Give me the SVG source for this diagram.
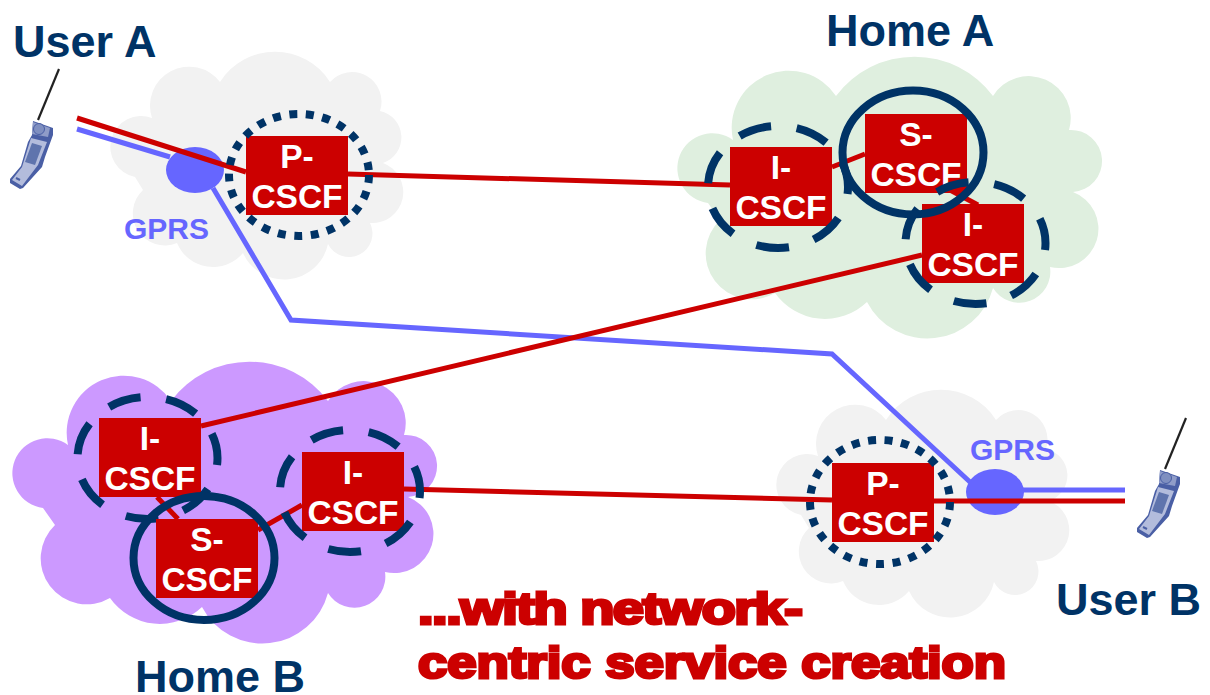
<svg xmlns="http://www.w3.org/2000/svg" width="1210" height="695" viewBox="0 0 1210 695">
<style>
text{font-family:"Liberation Sans",Arial,sans-serif;font-weight:700}
.box{fill:#cc0000}
.bt{fill:#fff;font-size:33.5px;text-anchor:middle}
.lbl{fill:#003366;font-size:45px}
.gprs{fill:#6666ff;font-size:30px}
.big{fill:#cc0000;stroke:#cc0000;stroke-width:3px;font-size:44px}
.ring{fill:none;stroke:#003366;stroke-width:8}
.dot{stroke-dasharray:8 8.6}
.dash{stroke-dasharray:33 25.9;stroke-dashoffset:26}
.r{fill:none;stroke:#cc0000;stroke-width:5}
.b{fill:none;stroke:#6666ff;stroke-width:5}
.ap{fill:#6666ff}
</style>
<defs>
<path id="cloudS" d="M135 177A30.800 30.800 0 1 1 152 118A39 39 0 0 1 220 82A65 65 0 0 1 330 82A29.500 29.500 0 0 1 380 111A27 27 0 0 1 383 163A31 31 0 0 1 370 223A23 23 0 0 1 328 244A45 45 0 0 1 243 253A39 39 0 0 1 177 243A32 32 0 0 1 143 190Z"/>
<path id="cloudL" d="M708 203A35 35 0 1 1 733 140A57 57 0 0 1 836 96A98 98 0 0 1 993 96A42 42 0 0 1 1069 130A31 31 0 0 1 1073 192A39.300 39.300 0 0 1 1050 267A31 31 0 0 1 993 288A68 68 0 0 1 867 302A61 61 0 0 1 775 293A46 46 0 0 1 720 220Z"/>
<g id="phone">
<path d="M59 69L38 120" stroke="#222" stroke-width="2.200" fill="none"/>
<path d="M33 121L53 128L53 135L45 157L42 167L23 188L20 189L10 183L10 179L21 166L28 142L32 135Z" fill="#4a5fa5"/>
<path d="M33 122L50 128L48 137L32 134Z" fill="#8f9cc8"/>
<path d="M31 138L47 142L38 165L22 186L12 180L22 167Z" fill="#b3bcdc"/>
<ellipse cx="39" cy="129" rx="5.500" ry="5.500" fill="#7f8fc0" stroke="#4a5fa5" stroke-width="1"/>
<path d="M32 143L42 146L35 165L25 162Z" fill="#5f74ad"/>
<path d="M16 178L20 180" stroke="#4a5fa5" stroke-width="2"/>
</g>
</defs>
<g id="clouds">
<use id="cloud-user-a" href="#cloudS" fill="#f2f2f2"/>
<use id="cloud-user-b" href="#cloudS" fill="#f2f2f2" transform="translate(666 338)"/>
<use id="cloud-home-a" href="#cloudL" fill="#dfefdf"/>
<use id="cloud-home-b" href="#cloudL" fill="#cc99ff" transform="translate(-665 305)"/>
</g>
<g id="access-a"><ellipse class="ap" cx="195" cy="170" rx="29" ry="23"/></g>
<g id="access-b"><ellipse class="ap" cx="995" cy="492" rx="29" ry="23"/></g>
<g id="connectors">
<path class="b" d="M77 129L170 157"/>
<path class="b" d="M213 188L291 320L832 354L970 482"/>
<path class="b" d="M1023 490H1125"/>
<path class="r" d="M77 118L246 172"/>
<path class="r" d="M348 174L730 185"/>
<path class="r" d="M832 167L865 154"/>
<path class="r" d="M950 190L978 205"/>
<path class="r" d="M922 255L201 426"/>
<path class="r" d="M157 497L178 519"/>
<path class="r" d="M258 530L302 505"/>
<path class="r" d="M404 489L832 500"/>
<path class="r" d="M934 501H1125"/>
</g>
<g id="p-cscf-a"><rect class="box" x="246" y="136" width="102" height="79"/><text class="bt" x="297" y="168">P-</text><text class="bt" x="297" y="208">CSCF</text><ellipse class="ring dot" cx="299" cy="175" rx="70" ry="61"/></g>
<g id="i-cscf-a1"><rect class="box" x="730" y="147" width="102" height="79"/><text class="bt" x="781" y="179">I-</text><text class="bt" x="781" y="219">CSCF</text><ellipse class="ring dash" cx="778" cy="187" rx="70" ry="61"/></g>
<g id="s-cscf-a"><rect class="box" x="865" y="114" width="102" height="79"/><text class="bt" x="916" y="146">S-</text><text class="bt" x="916" y="186">CSCF</text></g>
<g id="i-cscf-a2"><rect class="box" x="922" y="204" width="102" height="79"/><text class="bt" x="973" y="236">I-</text><text class="bt" x="973" y="276">CSCF</text><ellipse class="ring dash" cx="975.500" cy="243" rx="70" ry="61"/></g>
<ellipse id="s-ring-a" class="ring" cx="913" cy="152.500" rx="70.500" ry="62"/>
<g id="i-cscf-b1"><rect class="box" x="99" y="418" width="102" height="79"/><text class="bt" x="150" y="450">I-</text><text class="bt" x="150" y="490">CSCF</text><ellipse class="ring dash" cx="147.500" cy="458" rx="70" ry="61"/></g>
<g id="i-cscf-b2"><rect class="box" x="302" y="452" width="102" height="79"/><text class="bt" x="353" y="484">I-</text><text class="bt" x="353" y="524">CSCF</text><ellipse class="ring dash" cx="350" cy="491" rx="70" ry="61"/></g>
<g id="s-cscf-b"><rect class="box" x="156" y="519" width="102" height="79"/><text class="bt" x="207" y="551">S-</text><text class="bt" x="207" y="591">CSCF</text><ellipse class="ring" cx="204" cy="558" rx="70.500" ry="62"/></g>
<g id="p-cscf-b"><rect class="box" x="832" y="463" width="102" height="79"/><text class="bt" x="883" y="495">P-</text><text class="bt" x="883" y="535">CSCF</text><ellipse class="ring dot" cx="880" cy="502" rx="70" ry="62"/></g>
<g id="user-a"><use href="#phone"/><text class="lbl" x="13" y="57">User A</text></g>
<g id="user-b"><use href="#phone" transform="translate(1127 349)"/><text class="lbl" x="1056" y="615">User B</text></g>
<text id="home-a" class="lbl" x="826" y="46">Home A</text>
<text id="home-b" class="lbl" x="135" y="692">Home B</text>
<text class="gprs" x="124" y="239">GPRS</text>
<text class="gprs" x="970" y="460">GPRS</text>
<text class="big" transform="translate(418 624) scale(1.27 1)" textLength="303" lengthAdjust="spacing">...with network-</text>
<text class="big" transform="translate(418 678) scale(1.2 1)" textLength="490" lengthAdjust="spacing">centric service creation</text>
</svg>
